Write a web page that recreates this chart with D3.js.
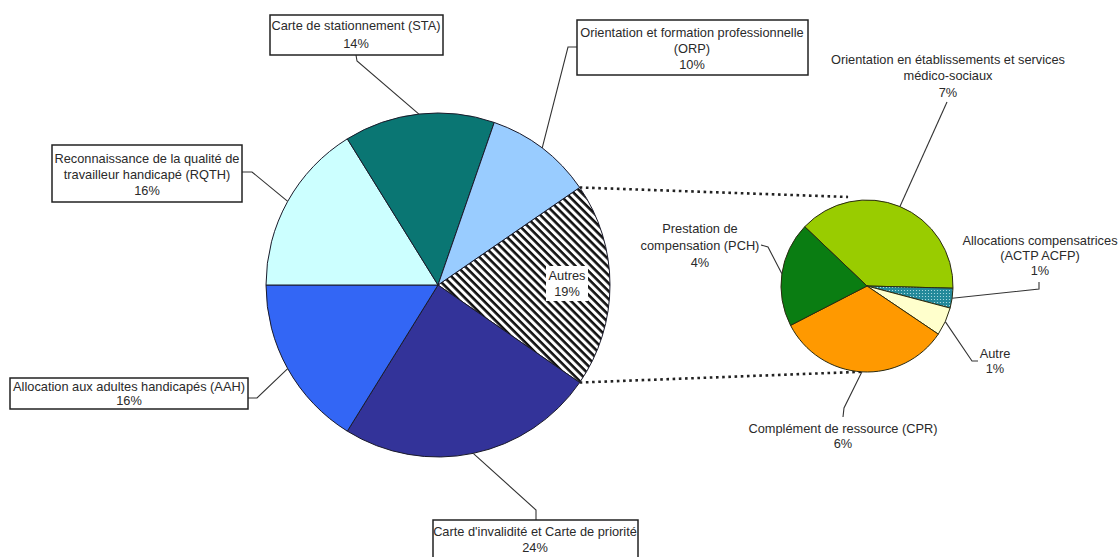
<!DOCTYPE html>
<html>
<head>
<meta charset="utf-8">
<script src="https://cdn.jsdelivr.net/npm/d3@7"></script>
<style>
  body { margin: 0; background: #fff; }
  svg { display: block; font-family: Arial, "Liberation Sans", sans-serif; }
</style>
</head>
<body>
<svg id="chart"></svg>
<script>
// main pie: categories, values (%), shown labels
const mainCategories = [
  "Autres",
  "Carte d'invalidité et Carte de priorité",
  "Allocation aux adultes handicapés (AAH)",
  "Reconnaissance de la qualité de|travailleur handicapé (RQTH)",
  "Carte de stationnement (STA)",
  "Orientation et formation professionnelle|(ORP)"
];
const mainValues = [19, 24, 16, 16, 14, 10];
const mainPercents = ["19%", "24%", "16%", "16%", "14%", "10%"];

// secondary pie: breakdown of "Autres"
const subCategories = [
  "Orientation en établissements et services|médico-sociaux",
  "Allocations compensatrices|(ACTP ACFP)",
  "Autre",
  "Complément de ressource (CPR)",
  "Prestation de|compensation (PCH)"
];
const subValues = [7.2, 0.7, 1.0, 6.2, 3.7];
const subPercents = ["7%", "1%", "1%", "6%", "4%"];

const width = 1120;
const height = 557;

const svg = d3.select("#chart").attr("width", width).attr("height", height);

const defs = svg.append("defs");

// diagonal stripes for "Autres"
const hatch = defs.append("pattern")
  .attr("id", "hatch")
  .attr("patternUnits", "userSpaceOnUse")
  .attr("width", 5.6)
  .attr("height", 5.6)
  .attr("patternTransform", "rotate(45)");
hatch.append("rect").attr("width", 5.6).attr("height", 5.6).attr("fill", "#fff");
hatch.append("rect").attr("width", 5.6).attr("height", 2.6).attr("fill", "#111");

// dotted teal for ACTP
const dots = defs.append("pattern")
  .attr("id", "dots")
  .attr("patternUnits", "userSpaceOnUse")
  .attr("width", 3)
  .attr("height", 3);
dots.append("rect").attr("width", 3).attr("height", 3).attr("fill", "#23899a");
dots.append("circle").attr("cx", 1.5).attr("cy", 1.5).attr("r", 0.6).attr("fill", "#bfe6ea");

const mainColors = ["url(#hatch)", "#333399", "#3366f5", "#ccffff", "#0a7673", "#99ccff"];
const subColors = ["#99cc00", "url(#dots)", "#ffffcc", "#ff9900", "#0a7d12"];

const deg = Math.PI / 180;

// main pie
const main = { cx: 438, cy: 285, r: 172 };
const autresSpan = (mainValues[0] / d3.sum(mainValues)) * 2 * Math.PI;
const mainStart = Math.PI / 2 - autresSpan / 2;

const mainPie = d3.pie()
  .sort(null)
  .value((d) => d)
  .startAngle(mainStart)
  .endAngle(mainStart + 2 * Math.PI);
const mainArcs = mainPie(mainValues);
const mainArc = d3.arc().innerRadius(0).outerRadius(main.r);

// secondary pie
const sub = { cx: 867, cy: 286, r: 86 };
const subStart = -46.4 * deg;
const subPie = d3.pie()
  .sort(null)
  .value((d) => d)
  .startAngle(subStart)
  .endAngle(subStart + 2 * Math.PI);
const subArcs = subPie(subValues);
const subArc = d3.arc().innerRadius(0).outerRadius(sub.r);

function polar(c, r, a) {
  return [c.cx + r * Math.sin(a), c.cy - r * Math.cos(a)];
}

// connectors between "Autres" and the secondary pie
const a0 = mainArcs[0];
const connectors = [
  [polar(main, main.r, a0.startAngle), polar(sub, sub.r + 5, -12 * deg)],
  [polar(main, main.r, a0.endAngle), polar(sub, sub.r, 184 * deg)]
];
svg.append("g")
  .selectAll("line")
  .data(connectors)
  .join("line")
  .attr("x1", (d) => d[0][0])
  .attr("y1", (d) => d[0][1])
  .attr("x2", (d) => d[1][0])
  .attr("y2", (d) => d[1][1])
  .attr("stroke", "#222")
  .attr("stroke-width", 2.6)
  .attr("stroke-dasharray", "2.6,3.6");

svg.append("g")
  .attr("transform", `translate(${main.cx},${main.cy})`)
  .selectAll("path")
  .data(mainArcs)
  .join("path")
  .attr("d", mainArc)
  .attr("fill", (d, i) => mainColors[i])
  .attr("stroke", "#1a1a2a")
  .attr("stroke-width", 1);

svg.append("g")
  .attr("transform", `translate(${sub.cx},${sub.cy})`)
  .selectAll("path")
  .data(subArcs)
  .join("path")
  .attr("d", subArc)
  .attr("fill", (d, i) => subColors[i])
  .attr("stroke", "#2a2a10")
  .attr("stroke-width", 1);

// label layout: box (optional), text centre, line spacing, leader path from box to slice
const mainLayout = [
  { inside: true, x: 567, y: 275, lh: 16, box: [546, 266, 42, 35] },
  { x: 535, y: 531, lh: 16, box: [433, 520, 205, 45], leader: [[536, 520], [536, 510]] },
  { x: 129, y: 386, lh: 14, box: [10, 378, 238, 31], leader: [[248, 398], [257, 398]] },
  { x: 147, y: 158, lh: 16, box: [52, 145, 190, 57], leader: [[242, 172], [252, 172]] },
  { x: 356, y: 25, lh: 18, box: [270, 15, 173, 40], leader: [[356, 55], [357, 61]] },
  { x: 692, y: 32, lh: 16, box: [577, 20, 231, 55], leader: [[577, 47], [568, 47]] }
];
const subLayout = [
  { x: 948, y: 59, lh: 16.5, leader: [[947, 102]] },
  { x: 1040, y: 240, lh: 15, leader: [[1039, 282], [1039, 289]] },
  { x: 995, y: 353, lh: 15, leader: [[978, 361], [972, 361]] },
  { x: 843, y: 428, lh: 15, leader: [[843, 417], [844, 408]] },
  { x: 700, y: 228, lh: 17, leader: [[761, 245], [768, 247]] }
];

const labels = svg.append("g");

function drawLabels(arcs, centre, radius, cats, pcts, layout) {
  arcs.forEach((d, i) => {
    const L = layout[i];
    const mid = (d.startAngle + d.endAngle) / 2;
    if (L.leader) {
      const pts = L.leader.concat([polar(centre, radius, mid)]);
      labels.append("path")
        .attr("d", d3.line()(pts))
        .attr("fill", "none")
        .attr("stroke", "#333")
        .attr("stroke-width", 1.1);
    }
    if (L.box) {
      labels.append("rect")
        .attr("x", L.box[0])
        .attr("y", L.box[1])
        .attr("width", L.box[2])
        .attr("height", L.box[3])
        .attr("fill", "#fff")
        .attr("stroke", L.inside ? "none" : "#222")
        .attr("stroke-width", 1.5);
    }
    const lines = cats[i].split("|").concat([pcts[i]]);
    const text = labels.append("text")
      .attr("text-anchor", "middle")
      .attr("font-size", 12.8)
      .attr("fill", "#2a2a2a");
    lines.forEach((t, k) => {
      text.append("tspan")
        .attr("x", L.x)
        .attr("y", L.y + 4.5 + k * L.lh)
        .text(t);
    });
  });
}

drawLabels(mainArcs, main, main.r, mainCategories, mainPercents, mainLayout);
drawLabels(subArcs, sub, sub.r, subCategories, subPercents, subLayout);
</script>
</body>
</html>
